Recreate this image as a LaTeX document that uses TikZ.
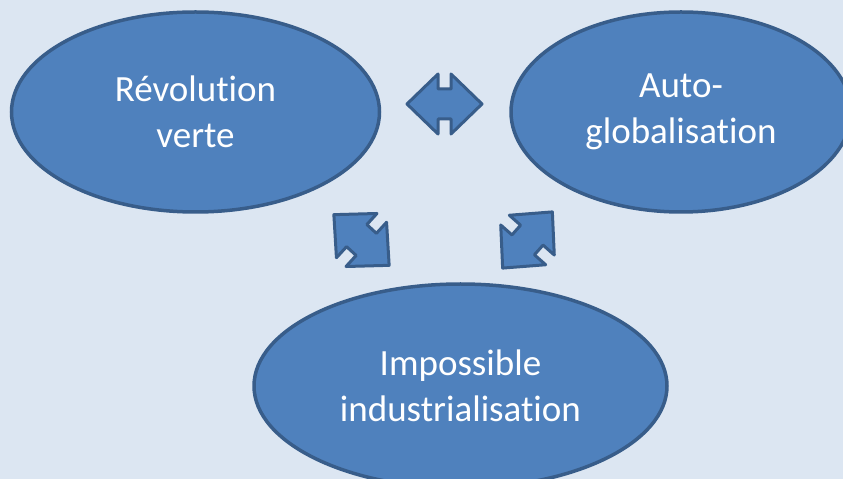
\documentclass[tikz,border=0pt]{standalone}
\usepackage{fontspec}
\setmainfont{Carlito}[Ligatures=NoCommon, RawFeature={-liga;-clig;-dlig}]
\usetikzlibrary{shapes.geometric}
\definecolor{bgc}{HTML}{DCE6F2}
\definecolor{fillc}{HTML}{4F81BD}
\definecolor{linec}{HTML}{385D8A}
\tikzset{
  ell/.style={ellipse, draw=linec, fill=fillc, line width=3.5pt, inner sep=0pt,
    text=white, align=center, font=\fontsize{37}{46}\selectfont},
  blockarrow/.style={draw=linec, fill=fillc, line width=3pt, line join=round},
}
\begin{document}
\begin{tikzpicture}[x=1pt,y=1pt]
\useasboundingbox (0,0) rectangle (843,479);
\fill[bgc] (0,0) rectangle (843,479);
\clip (0,0) rectangle (843,479);
\node[ell, minimum width=368pt, minimum height=200pt] (rev) at (195.5,367) {Révolution\\verte};
\node[ell, minimum width=340pt, minimum height=200pt] (auto) at (681,367) {Auto-\\globalisation};
\node[ell, minimum width=413pt, minimum height=204pt] (imp) at (460.5,93) {Impossible\\industrialisation};
% block double arrows
\foreach \cx/\cy/\ang in {444.5/375/0, 361.5/239/-42.5, 527.5/239/48.5}{
  \draw[blockarrow, shift={(\cx,\cy)}, rotate=\ang]
    (-37.5,0) -- (-6.5,30) -- (-6.5,15) -- (6.5,15) -- (6.5,30) -- (37.5,0)
    -- (6.5,-30) -- (6.5,-15) -- (-6.5,-15) -- (-6.5,-30) -- cycle;
}
\end{tikzpicture}
\end{document}
